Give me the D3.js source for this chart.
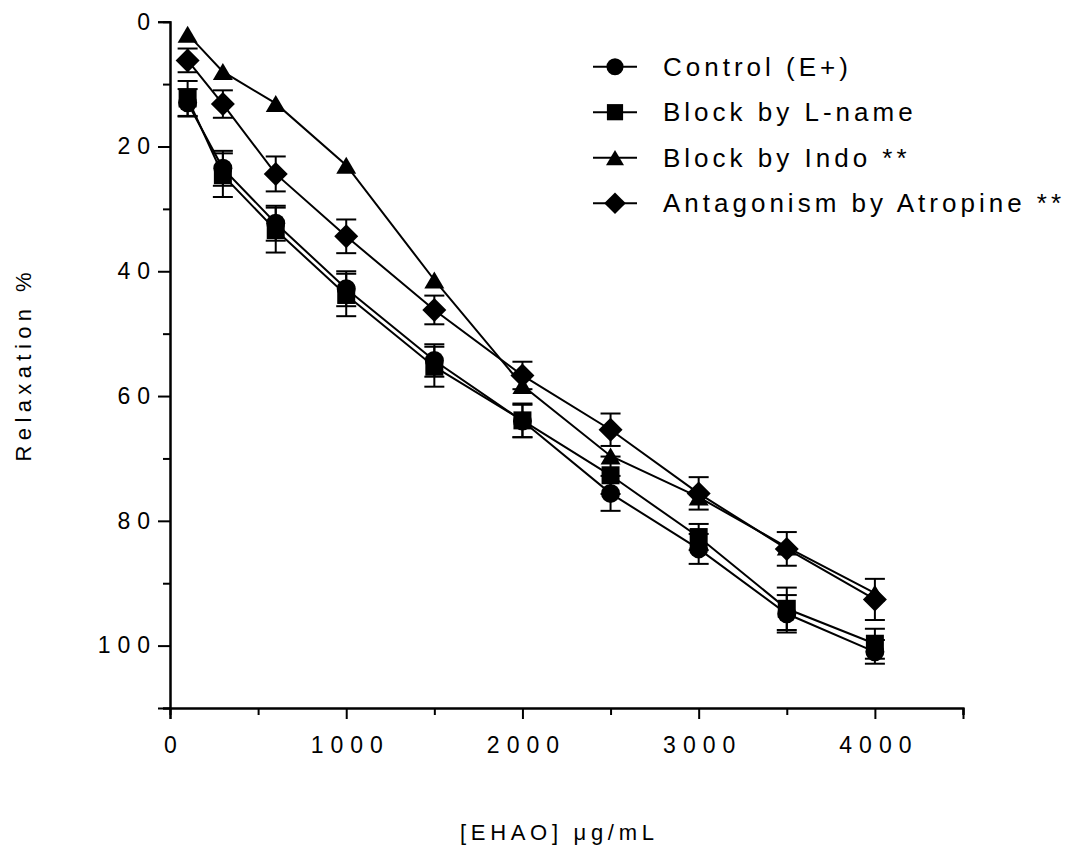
<!DOCTYPE html>
<html>
<head>
<meta charset="utf-8">
<script src="https://cdn.jsdelivr.net/npm/d3@7"></script>
<style>
  body { margin: 0; background: #fff; }
  text { font-family: "Liberation Sans", Arial, sans-serif; fill: #000; }
</style>
</head>
<body>
<svg id="chart" width="1067" height="854"></svg>
<script>
// concentration of EHAO (µg/mL)
const doses = [100, 300, 600, 1000, 1500, 2000, 2500, 3000, 3500, 4000];

// relaxation % (mean ± SEM)
const controlMean = [13, 23.5, 32.3, 42.8, 54.3, 64, 75.6, 84.5, 94.9, 101];
const controlSem = [2.2, 2.8, 2.8, 2.8, 2.6, 2.6, 2.8, 2.4, 3.0, 1.9];
const lnameMean = [12.3, 24.6, 33.4, 43.8, 55.3, 63.9, 72.7, 82.6, 94.1, 99.7];
const lnameSem = [2.8, 3.5, 3.6, 3.4, 3.2, 2.7, 3.0, 2.1, 3.4, 2.4];
const indoMean = [2.0, 8.0, 13.1, 23.0, 41.4, 58.3, 69.6, 76.2, 84.2, 91.6];
const indoSem = [0, 0, 0, 0, 0, 0, 0, 0, 0, 0]; // bars hidden behind the markers
const atropineMean = [6.2, 13.2, 24.4, 34.4, 46.2, 56.7, 65.4, 75.6, 84.5, 92.6];
const atropineSem = [1.9, 2.2, 2.8, 2.7, 2.3, 2.2, 2.6, 2.6, 2.7, 3.3];

const seriesNames = ["Control (E+)", "Block by L-name", "Block by Indo **", "Antagonism by Atropine **"];
const seriesShapes = ["circle", "square", "triangle", "diamond"];

const xTicks = [0, 1000, 2000, 3000, 4000];
const xMinorTicks = [500, 1500, 2500, 3500, 4500];
const yTicks = [0, 20, 40, 60, 80, 100];
const yMinorTicks = [10, 30, 50, 70, 90, 110];

const series = [
  { name: seriesNames[0], shape: seriesShapes[0], mean: controlMean, sem: controlSem },
  { name: seriesNames[1], shape: seriesShapes[1], mean: lnameMean, sem: lnameSem },
  { name: seriesNames[2], shape: seriesShapes[2], mean: indoMean, sem: indoSem },
  { name: seriesNames[3], shape: seriesShapes[3], mean: atropineMean, sem: atropineSem },
];

const svg = d3.select("#chart");

// scales (y runs downward: 0 at top)
const x = d3.scaleLinear().domain([0, 4500]).range([170, 963]);
const y = d3.scaleLinear().domain([0, 110]).range([21.7, 708]);

// marker paths, centred on 0,0
function markerPath(shape) {
  if (shape === "circle") {
    return d3.symbol(d3.symbolCircle, Math.PI * 9.5 * 9.5)();
  } else if (shape === "square") {
    return "M-9,-9H9V9H-9Z";
  } else if (shape === "triangle") {
    return "M0,-8.5L10,8.5H-10Z";
  } else {
    return "M0,-12L12,0L0,12L-12,0Z";
  }
}

// axes
const yAxis = d3.axisLeft(y).tickValues(yTicks).tickSize(12).tickPadding(8).tickFormat(d3.format("d"));
const yMinor = d3.axisLeft(y).tickValues(yMinorTicks).tickSize(7).tickFormat("");
const xAxis = d3.axisBottom(x).tickValues(xTicks).tickSize(11).tickPadding(18).tickFormat(d3.format("d"));
const xMinor = d3.axisBottom(x).tickValues(xMinorTicks).tickSize(7).tickFormat("");

const gy = svg.append("g").attr("transform", `translate(${x(0)},0)`);
gy.call(yAxis);
gy.append("g").call(yMinor);
const gx = svg.append("g").attr("transform", `translate(0,${y(110)})`);
gx.call(xAxis);
gx.append("g").call(xMinor);

svg.selectAll(".domain").attr("stroke", "#000").attr("stroke-width", 2);
svg.selectAll(".tick line").attr("stroke", "#000").attr("stroke-width", 2);
svg.selectAll(".tick text")
  .style("font-size", "23px")
  .style("letter-spacing", "7px")
  .attr("font-family", null);
gy.selectAll(".tick text").attr("dx", "7px");
gx.selectAll(".tick text").attr("dx", "3.5px");

// axis titles
svg.append("text")
  .attr("transform", `translate(31,${367})rotate(-90)`)
  .attr("text-anchor", "middle")
  .attr("dx", "2.7px")
  .style("font-size", "22px")
  .style("letter-spacing", "5.4px")
  .text("Relaxation %");

svg.append("text")
  .attr("x", 557)
  .attr("y", 840)
  .attr("text-anchor", "middle")
  .attr("dx", "2.3px")
  .style("font-size", "22px")
  .style("letter-spacing", "4.7px")
  .text("[EHAO] μg/mL");

// lines
const line = d3.line()
  .x((d, i) => x(doses[i]))
  .y(d => y(d));

const plot = svg.append("g");
series.forEach(s => {
  plot.append("path")
    .datum(s.mean)
    .attr("d", line)
    .attr("fill", "none")
    .attr("stroke", "#000")
    .attr("stroke-width", 2);
});

// error bars
series.forEach(s => {
  const eb = plot.append("g").selectAll("g")
    .data(s.mean.map((m, i) => ({ dose: doses[i], mean: m, sem: s.sem[i] })).filter(d => d.sem > 0))
    .enter().append("g")
    .attr("stroke", "#000")
    .attr("stroke-width", 2);
  eb.append("line")
    .attr("x1", d => x(d.dose)).attr("x2", d => x(d.dose))
    .attr("y1", d => y(d.mean - d.sem)).attr("y2", d => y(d.mean + d.sem));
  eb.append("line")
    .attr("x1", d => x(d.dose) - 10).attr("x2", d => x(d.dose) + 10)
    .attr("y1", d => y(d.mean - d.sem)).attr("y2", d => y(d.mean - d.sem));
  eb.append("line")
    .attr("x1", d => x(d.dose) - 10).attr("x2", d => x(d.dose) + 10)
    .attr("y1", d => y(d.mean + d.sem)).attr("y2", d => y(d.mean + d.sem));
});

// markers
series.forEach(s => {
  plot.append("g").selectAll("path")
    .data(s.mean)
    .enter().append("path")
    .attr("transform", (d, i) => `translate(${x(doses[i])},${y(d)})`)
    .attr("d", markerPath(s.shape))
    .attr("fill", "#000");
});

// legend
const legend = svg.append("g").attr("transform", "translate(593,66.7)");
const rows = legend.selectAll("g")
  .data(series)
  .enter().append("g")
  .attr("transform", (d, i) => `translate(0,${i * 45.5})`);
rows.append("line")
  .attr("x1", 0).attr("x2", 44)
  .attr("stroke", "#000").attr("stroke-width", 2);
rows.append("path")
  .attr("transform", "translate(22,0) scale(0.9)")
  .attr("d", d => markerPath(d.shape))
  .attr("fill", "#000");
rows.append("text")
  .attr("x", 70)
  .attr("y", 9)
  .style("font-size", "26px")
  .style("letter-spacing", "4px")
  .text(d => d.name);
</script>
</body>
</html>
